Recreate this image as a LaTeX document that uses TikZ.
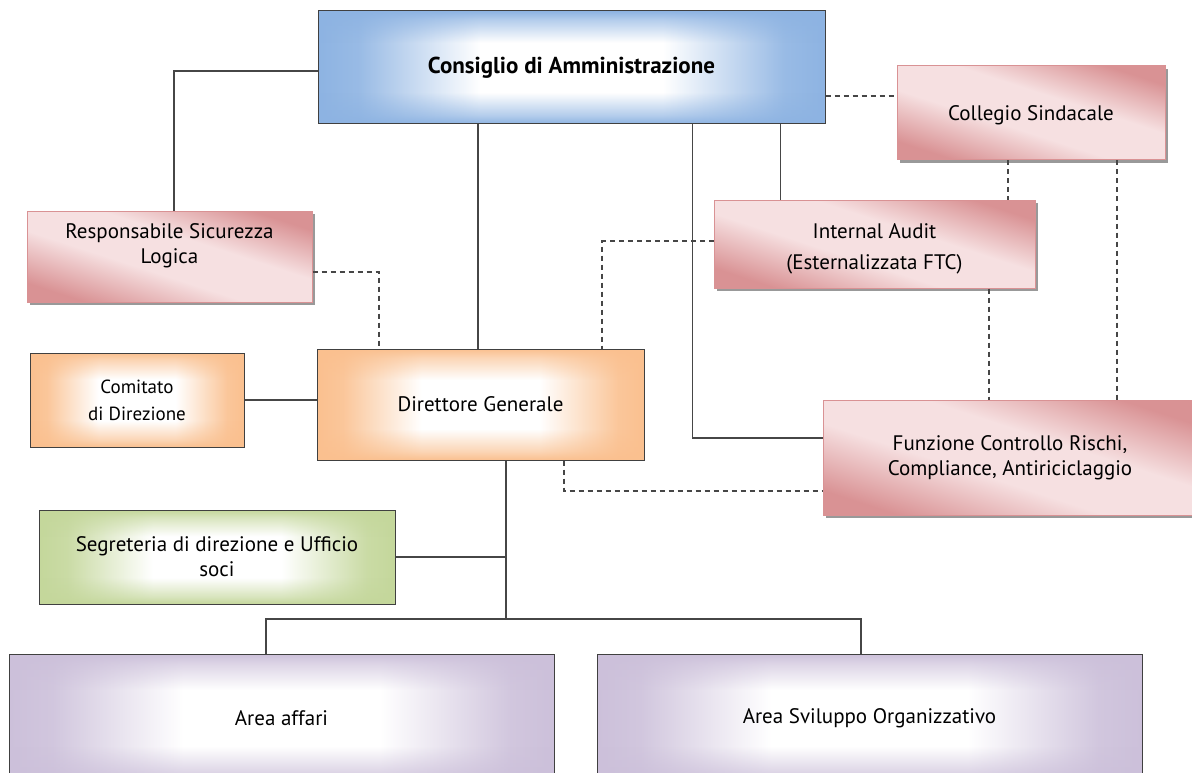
\documentclass[tikz,border=0pt]{standalone}
\usepackage{fontspec}
\setmainfont{PT Sans}
\usepackage{tikz}
\usetikzlibrary{positioning, shadows, fadings}

\definecolor{boxline}{RGB}{64,64,64}
\definecolor{linkgray}{RGB}{70,70,70}
\definecolor{cdablue}{RGB}{141,179,226}
\definecolor{dgorange}{RGB}{250,192,143}
\definecolor{segreen}{RGB}{196,215,155}
\definecolor{areapurple}{RGB}{204,192,218}
\definecolor{pinkd}{RGB}{217,146,148}
\definecolor{pinkl}{RGB}{246,224,225}
\colorlet{glowcol}{white}

\pgfdeclarehorizontalshading[glowcol]{sidefade}{100bp}{color(0bp)=(glowcol); color(25bp)=(glowcol); color(29bp)=(glowcol!90!white); color(35bp)=(glowcol!45!white); color(41bp)=(white); color(59bp)=(white); color(65bp)=(glowcol!45!white); color(71bp)=(glowcol!90!white); color(75bp)=(glowcol); color(100bp)=(glowcol)}
\pgfdeclareverticalshading{tbmask}{100bp}{color(0bp)=(white); color(25bp)=(white); color(29bp)=(white!65!black); color(39bp)=(black); color(61bp)=(black); color(71bp)=(white!65!black); color(75bp)=(white); color(100bp)=(white)}
\pgfdeclarefading{tbfade}{\pgfuseshading{tbmask}}
\pgfdeclareverticalshading{pinkband}{100bp}{color(0bp)=(pinkd); color(25bp)=(pinkd); color(43bp)=(pinkl); color(58bp)=(pinkl); color(75bp)=(pinkd); color(100bp)=(pinkd)}

\tikzset{glowfill/.style={/utils/exec={\colorlet{glowcol}{#1}}}}

\begin{document}
\begin{tikzpicture}[x=1pt, y=-1pt, every node/.style={font=\fontsize{21}{25}\selectfont}]

\tikzstyle{glowbox} = [rectangle, draw=boxline, line width=1pt, align=center, inner sep=0pt,
  path picture={
    \fill[shading=sidefade] (path picture bounding box.south west) rectangle (path picture bounding box.north east);
    \fill[glowcol, path fading=tbfade] (path picture bounding box.south west) rectangle (path picture bounding box.north east);
  }]
\tikzstyle{pinkbox} = [rectangle, draw=pinkd, line width=1pt, shading=pinkband, shading angle=-18, align=center, inner sep=0pt, drop shadow={shadow xshift=3pt, shadow yshift=-3pt, fill=black!40, opacity=1}]
\tikzstyle{link} = [draw=linkgray, line width=1.1pt]
\tikzstyle{dashlink} = [link, dash pattern=on 5pt off 4pt]

\useasboundingbox (0,0) rectangle (1192,773);

% Nodes
\node (cda) [glowfill=cdablue, glowbox, minimum width=507pt, minimum height=113pt, font=\fontsize{23}{25}\selectfont\bfseries] at (571.5,67.5) {Consiglio di Amministrazione};
\node (collegio) [pinkbox, minimum width=268pt, minimum height=94pt] at (1031,113) {\rule{0pt}{20pt}Collegio Sindacale};
\node (rsl) [pinkbox, minimum width=285pt, minimum height=91pt] at (169.5,256.5) {Responsabile Sicurezza\\Logica\\[1pt]};
\node (audit) [pinkbox, minimum width=321pt, minimum height=88pt] at (874.5,244) {\rule{0pt}{25pt}Internal Audit\\[6pt](Esternalizzata FTC)};
\node (comitato) [glowfill=dgorange, glowbox, minimum width=214pt, minimum height=94pt, font=\fontsize{19}{27}\selectfont] at (137,400) {Comitato\\di Direzione};
\node (dg) [glowfill=dgorange, glowbox, minimum width=327pt, minimum height=111pt] at (480.5,404.5) {Direttore Generale};
\node (fcr) [pinkbox, minimum width=374pt, minimum height=115pt] at (1010,457.5) {Funzione Controllo Rischi,\\Compliance, Antiriciclaggio};
\node (seg) [glowfill=segreen, glowbox, minimum width=356pt, minimum height=94pt] at (217,557) {Segreteria di direzione e Ufficio\\soci};
\node (affari) [glowfill=areapurple, glowbox, minimum width=545pt, minimum height=128pt] at (281.5,718) {Area affari};
\node (sviluppo) [glowfill=areapurple, glowbox, minimum width=545pt, minimum height=128pt] at (869.5,718) {Area Sviluppo Organizzativo};

% Taps on the boxes
\coordinate (cda2rsl) at ([yshift=-3.5pt]cda.west);
\coordinate (rslin) at ([xshift=4.5pt]rsl.north);
\coordinate (dgin) at ([xshift=-2.5pt]dg.north);
\coordinate (auditin) at ([xshift=67pt]audit.north west);
\coordinate (cdaout) at ([xshift=121pt]cda.south);
\coordinate (fcrin) at ([yshift=19.5pt]fcr.west);
\coordinate (cda2col) at ([yshift=-28.5pt]cda.east);
\coordinate (col2audit) at ([xshift=-23pt]collegio.south);
\coordinate (col2fcr) at ([xshift=86pt]collegio.south);
\coordinate (audit2fcr) at ([xshift=114.5pt]audit.south);
\coordinate (audit2dg) at ([yshift=3pt]audit.west);
\coordinate (dgaudit) at ([xshift=121.5pt]dg.north);
\coordinate (rsl2dg) at ([yshift=-15.5pt]rsl.east);
\coordinate (dgrsl) at ([xshift=-101.5pt]dg.north);
\coordinate (dgout) at ([xshift=83.5pt]dg.south);
\coordinate (fcrlow) at ([yshift=-33.5pt]fcr.west);
\coordinate (dgdown) at ([xshift=25.5pt]dg.south);
\coordinate (split) at (506,619);
\coordinate (affin) at ([xshift=-15.5pt]affari.north);
\coordinate (svin) at ([xshift=-8.5pt]sviluppo.north);

% Lines
\draw [link] (cda2rsl) -| (rslin);
\draw [link] (dgin) -- (dgin |- cda.south);
\draw [link] (auditin |- cda.south) -- (auditin);
\draw [link] (cdaout) |- (fcrin);
\draw [link] (comitato.east) -- (comitato.east -| dg.west);
\draw [link] (dgdown) -- (split);
\draw [link] (seg.east) -- (seg.east -| split);
\draw [link] (affin) |- (split) -| (svin);

% Dashed lines
\draw [dashlink] (cda2col) -- (cda2col -| collegio.west);
\draw [dashlink] (col2audit) -- (col2audit |- audit.north);
\draw [dashlink] (col2fcr) -- (col2fcr |- fcr.north);
\draw [dashlink] (audit2fcr) -- (audit2fcr |- fcr.north);
\draw [dashlink] (audit2dg) -| (dgaudit);
\draw [dashlink] (rsl2dg) -| (dgrsl);
\draw [dashlink] (dgout) |- (fcrlow);

\end{tikzpicture}
\end{document}
